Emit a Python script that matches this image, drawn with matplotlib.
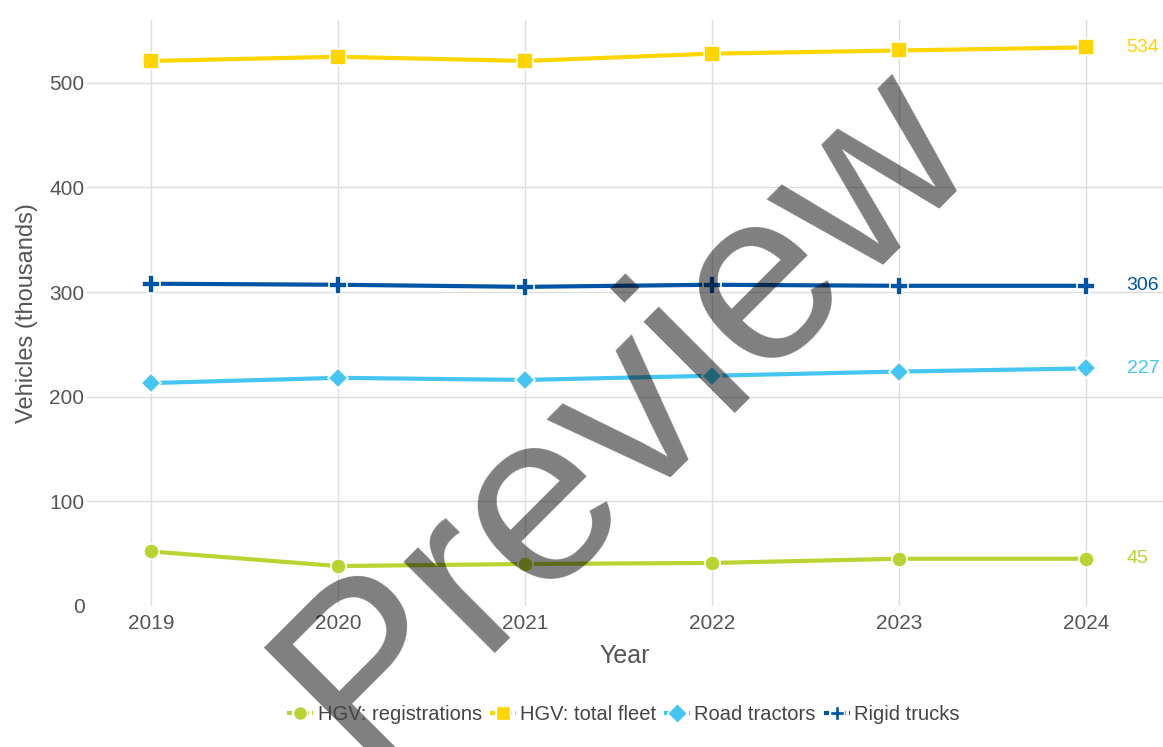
import matplotlib.pyplot as plt
from matplotlib.lines import Line2D

plt.rcParams['font.family'] = ['Liberation Sans', 'DejaVu Sans']

years = [2019, 2020, 2021, 2022, 2023, 2024]
registrations = [52, 38, 40, 41, 45, 45]
total_fleet = [521, 525, 521, 528, 531, 534]
road_tractors = [213, 218, 216, 220, 224, 227]
rigid_trucks = [308, 307, 305, 307, 306, 306]

names = ['HGV: registrations', 'HGV: total fleet', 'Road tractors', 'Rigid trucks']
colors = ['#B8D432', '#FFD500', '#45C6F2', '#0054A6']
markers = ['o', 's', 'D', 'P']
msizes = [11, 12, 10, 13]

fig = plt.figure(figsize=(11.63, 7.47), dpi=100)
ax = fig.add_axes([0.075, 0.189, 0.925, 0.784])

series = [registrations, total_fleet, road_tractors, rigid_trucks]
for vals, c, m, ms in zip(series, colors, markers, msizes):
    ax.plot(years, vals, color=c, lw=3, marker=m, markersize=ms,
            markeredgecolor='white', markeredgewidth=1.2, zorder=3)

# latest value next to each line
for vals, c in zip(series, colors):
    ax.annotate(str(vals[-1]), (years[-1], vals[-1]), xytext=(29, 0),
                textcoords='offset points', color=c, fontsize=14,
                va='center', ha='left')

ax.set_xlim(2018.66, 2024.41)
ax.set_ylim(0, 560)
ax.set_xticks(years)
ax.set_yticks([0, 100, 200, 300, 400, 500])
ax.grid(True, color='#dddddd', lw=1)
ax.yaxis.get_gridlines()[0].set_visible(False)
ax.set_axisbelow(True)
ax.tick_params(length=0, labelsize=15, labelcolor='#555555')
ax.tick_params(axis='x', pad=6)
ax.tick_params(axis='y', pad=2)
for s in ax.spines.values():
    s.set_visible(False)
ax.set_xlabel('Year', fontsize=18, color='#555555', labelpad=8)
ax.set_ylabel('Vehicles (thousands)', fontsize=17, color='#555555', labelpad=8)

handles = [Line2D([0], [0], color=c, lw=3, ls=(0, (1.2, 0.8)), marker=m,
                  markersize=10, markeredgecolor='white', markeredgewidth=1)
           for c, m in zip(colors, markers)]
fig.legend(handles, names, loc='center', bbox_to_anchor=(0.536, 0.044),
           ncol=4, frameon=False, fontsize=14.5, handlelength=1.3,
           handletextpad=0.2, columnspacing=0.4, labelcolor='#444444')

# watermark
fig.text(0.576, 0.387, 'Preview', fontsize=176, color='black', alpha=0.5,
         rotation=45, ha='center', va='baseline', rotation_mode='anchor')

fig.savefig('out.png', dpi=100)
